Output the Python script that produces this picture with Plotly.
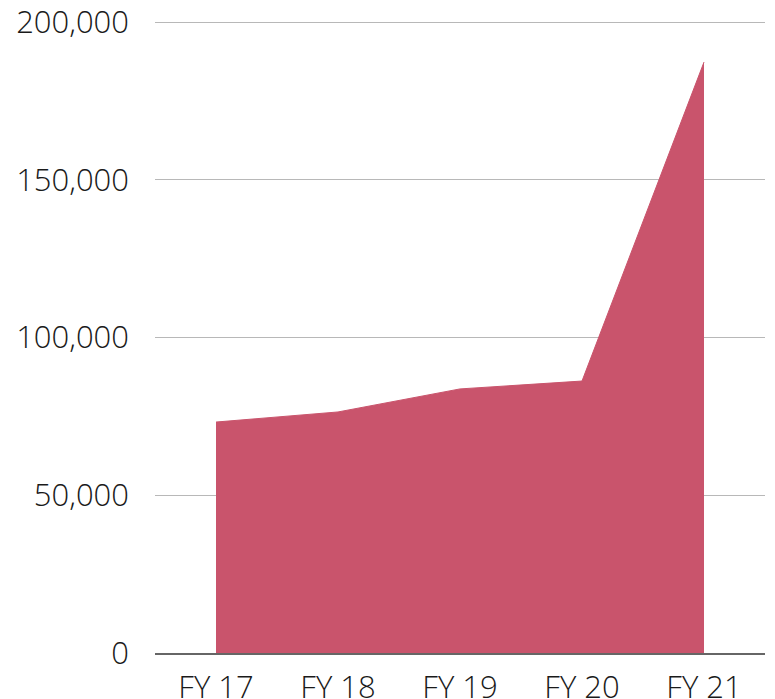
import plotly.graph_objects as go

categories = ["FY 17", "FY 18", "FY 19", "FY 20", "FY 21"]
values = [73200, 76400, 83700, 86200, 187300]
y_ticks = [0, 50000, 100000, 150000, 200000]

fig = go.Figure()
fig.add_trace(go.Scatter(
    x=categories, y=values, mode="lines", fill="tozeroy",
    line=dict(color="#C9546C", width=1), fillcolor="#C9546C",
    hoverinfo="skip", showlegend=False,
))

font = dict(family="Open Sans", size=31, color="#1a1a1a", weight=300)
fig.update_layout(
    width=775, height=699,
    margin=dict(l=147, r=18, t=13, b=54),
    paper_bgcolor="white", plot_bgcolor="white",
    font=font,
    xaxis=dict(
        type="category", range=[-0.5, 4.5], showgrid=False,
        showline=True, linecolor="#666666", linewidth=2,
        ticks="", tickfont=font, ticklabelstandoff=6, automargin=False,
        ticklabeloverflow="allow",
    ),
    yaxis=dict(
        range=[0, 200320], tickvals=y_ticks, tickformat=",",
        showgrid=True, gridcolor="#B8B8B8", gridwidth=1,
        zeroline=False, showline=False, ticks="",
        tickfont=font, ticklabelstandoff=25, automargin=False,
        ticklabeloverflow="allow",
    ),
)
fig.write_html("out.html")
